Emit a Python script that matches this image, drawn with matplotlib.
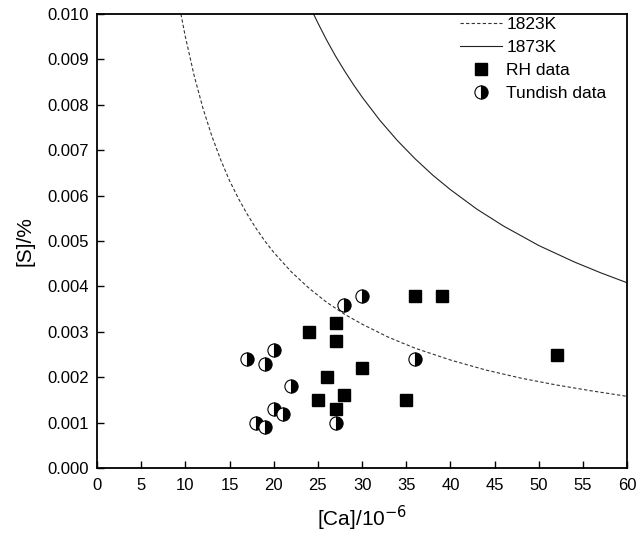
import matplotlib
matplotlib.use("Agg")
import matplotlib.pyplot as plt
from matplotlib.ticker import FormatStrFormatter

plt.rcParams['font.family'] = ['Liberation Sans', 'DejaVu Sans']

# curves
ca_1823 = [9.5, 10, 11, 12, 13, 14, 15, 16, 17, 18, 19, 20, 22, 24, 26, 28, 30,
           33, 36, 40, 44, 48, 52, 56, 60]
s_1823 = [0.01000, 0.00950, 0.00864, 0.00792, 0.00731, 0.00679, 0.00633, 0.00594,
          0.00559, 0.00528, 0.00500, 0.00475, 0.00432, 0.00396, 0.00365, 0.00339,
          0.00317, 0.00288, 0.00264, 0.00238, 0.00216, 0.00198, 0.00183, 0.00170,
          0.00158]

ca_1873 = [24.5, 25, 26, 27, 28, 29, 30, 32, 34, 36, 38, 40, 43, 46, 50, 54, 57, 60]
s_1873 = [0.01000, 0.00980, 0.00942, 0.00907, 0.00875, 0.00845, 0.00817, 0.00766,
          0.00721, 0.00681, 0.00645, 0.00613, 0.00570, 0.00533, 0.00490, 0.00454,
          0.00430, 0.00408]

# measured points
rh_ca = [24, 27, 27, 26, 25, 28, 27, 30, 35, 36, 39, 52]
rh_s = [0.0030, 0.0032, 0.0028, 0.0020, 0.0015, 0.0016, 0.0013, 0.0022,
        0.0015, 0.0038, 0.0038, 0.0025]

tun_ca = [17, 19, 20, 22, 20, 21, 18, 19, 27, 28, 30, 36]
tun_s = [0.0024, 0.0023, 0.0026, 0.0018, 0.0013, 0.0012, 0.0010, 0.0009,
         0.0010, 0.0036, 0.0038, 0.0024]

fig = plt.figure(figsize=(6.42, 5.35), dpi=100)
ax = fig.add_axes([0.151, 0.125, 0.826, 0.849])

ax.plot(ca_1823, s_1823, color='#333333', linestyle=(0, (3, 2)), linewidth=0.8, label='1823K')
ax.plot(ca_1873, s_1873, color='#222222', linestyle='-', linewidth=0.8, label='1873K')
ax.plot(rh_ca, rh_s, linestyle='none', marker='s', markersize=8,
        color='black', label='RH data')
ax.plot(tun_ca, tun_s, linestyle='none', marker='o', markersize=9.5,
        fillstyle='right', markerfacecolor='black', markerfacecoloralt='white',
        markeredgecolor='black', markeredgewidth=0.8, label='Tundish data')

ax.set_xlim(0, 60)
ax.set_ylim(0, 0.010)
ax.set_xticks(range(0, 61, 5))
ax.set_yticks([i * 0.001 for i in range(11)])
ax.yaxis.set_major_formatter(FormatStrFormatter('%.3f'))
ax.tick_params(direction='in', length=5, width=1, labelsize=12, top=False, right=False)
ax.tick_params(axis='x', pad=7)
ax.tick_params(axis='y', pad=6)
for sp in ax.spines.values():
    sp.set_linewidth(1.3)

ax.set_xlabel('[Ca]/10$^{-6}$', fontsize=15, labelpad=8)
ax.set_ylabel('[S]/%', fontsize=15, labelpad=9)

ax.legend(loc='upper right', bbox_to_anchor=(0.974, 1.009), frameon=False,
          fontsize=12.5, handlelength=2.42, borderaxespad=0.2, borderpad=0.2,
          labelspacing=0.45, handletextpad=0.23)

fig.savefig('out.png', dpi=100)
